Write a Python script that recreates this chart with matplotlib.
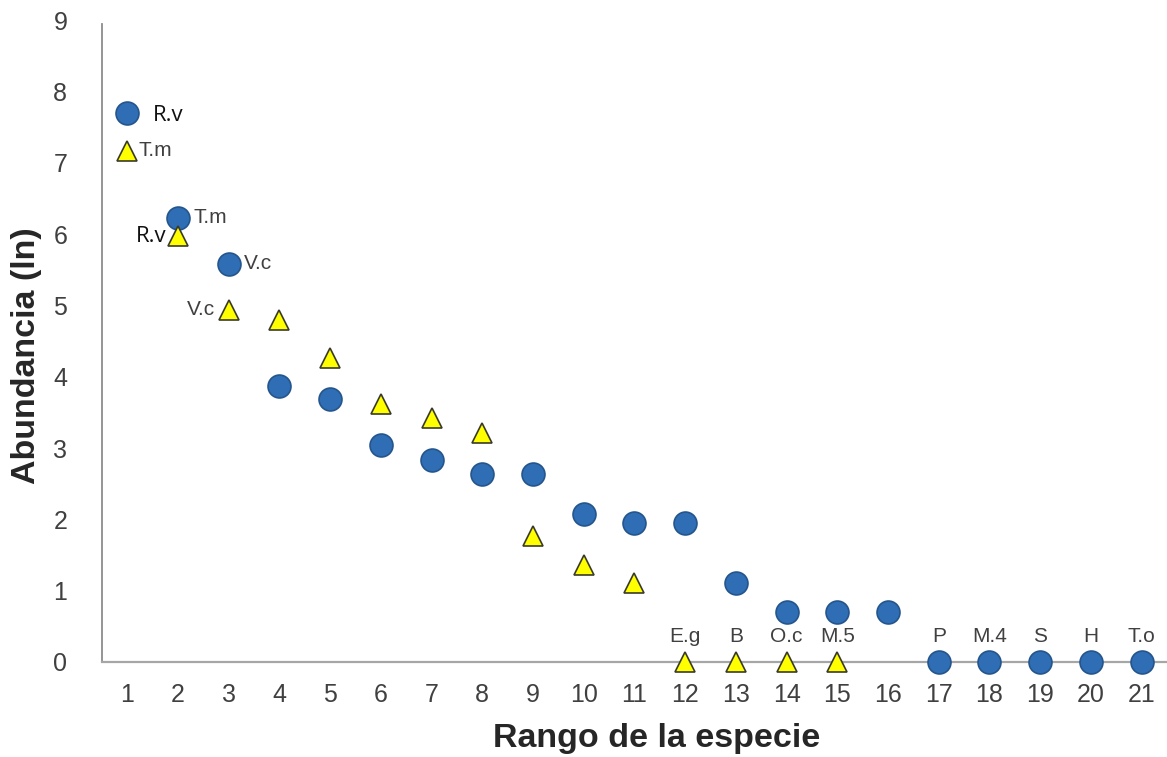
import matplotlib
matplotlib.use("Agg")
import matplotlib.pyplot as plt

rank = list(range(1, 22))
circles = [7.70, 6.23, 5.58, 3.87, 3.69, 3.04, 2.83, 2.64, 2.64, 2.08, 1.95, 1.95,
           1.11, 0.70, 0.70, 0.70, 0.0, 0.0, 0.0, 0.0, 0.0]
tri_rank = list(range(1, 16))
triangles = [7.17, 5.97, 4.94, 4.80, 4.26, 3.62, 3.42, 3.21, 1.77, 1.36, 1.11,
             0.0, 0.0, 0.0, 0.0]

circle_labels = {0: "R.v", 1: "T.m", 2: "V.c", 16: "P", 17: "M.4", 18: "S", 19: "H", 20: "T.o"}
tri_labels = {0: "T.m", 1: "R.v", 2: "V.c", 11: "E.g", 12: "B", 13: "O.c", 14: "M.5"}

fig = plt.figure(figsize=(11.67, 7.57), dpi=100)
ax = fig.add_axes([0.0874, 0.1255, 0.9126, 0.848])
ax.set_xlim(0.5, 21.5)
ax.set_ylim(0, 9)

ax.plot(rank, circles, linestyle="none", marker="o", markersize=16.5,
        markerfacecolor="#2F6EB5", markeredgecolor="#24558C", markeredgewidth=1.2, zorder=3, clip_on=False)
ax.plot(tri_rank, triangles, linestyle="none", marker="^", markersize=15,
        markerfacecolor="#FFFF00", markeredgecolor="#3A3A2A", markeredgewidth=1.2, zorder=4, clip_on=False)

gray = "#404040"
calib = ["Open Sans", "DejaVu Sans"]
arial = ["Liberation Sans", "DejaVu Sans"]

def lab(x, y, txt, dx, dy, ha, black=False):
    ax.annotate(txt, xy=(x, y), xytext=(dx, dy), textcoords="offset pixels",
                ha=ha, va="center", fontsize=16 if black else 15,
                color="#111111" if black else gray,
                family=calib if black else arial, zorder=5)

for i, t in circle_labels.items():
    x, y = rank[i], circles[i]
    if i == 0:
        lab(x, y, t, 26, -3, "left", black=True)
    elif i in (1, 2):
        lab(x, y, t, 15, 0, "left")
    else:
        lab(x, y, t, 0, 25, "center")

for i, t in tri_labels.items():
    x, y = tri_rank[i], triangles[i]
    if i == 0:
        lab(x, y, t, 11, 0, "left")
    elif i == 1:
        lab(x, y, t, -12, 0, "right", black=True)
    elif i == 2:
        lab(x, y, t, -14, 0, "right")
    else:
        lab(x, y, t, 0, 25, "center")

ax.set_xticks(rank)
ax.set_yticks(range(0, 10))
ax.tick_params(axis="both", length=0, labelsize=18, colors="#404040")
ax.tick_params(axis="x", pad=15)
ax.tick_params(axis="y", pad=25)
for l in ax.get_xticklabels() + ax.get_yticklabels():
    l.set_family(arial)

for s in ("top", "right"):
    ax.spines[s].set_visible(False)
ax.spines["left"].set_color("#8C8C8C")
ax.spines["bottom"].set_color("#A6A6A6")
ax.spines["left"].set_linewidth(1.3)
ax.spines["bottom"].set_linewidth(1.6)
ax.spines["left"].set_bounds(0, 8.95)

ax.set_xlabel("Rango de la especie", fontsize=24.5, fontweight="bold", family=arial, color="#262626")
ax.set_ylabel("Abundancia (ln)", fontsize=24.5, fontweight="bold", family=arial, color="#262626")
ax.xaxis.set_label_coords(0.521, -0.095)
ax.yaxis.set_label_coords(-0.056, 0.478)

fig.savefig("out.png", dpi=100)
